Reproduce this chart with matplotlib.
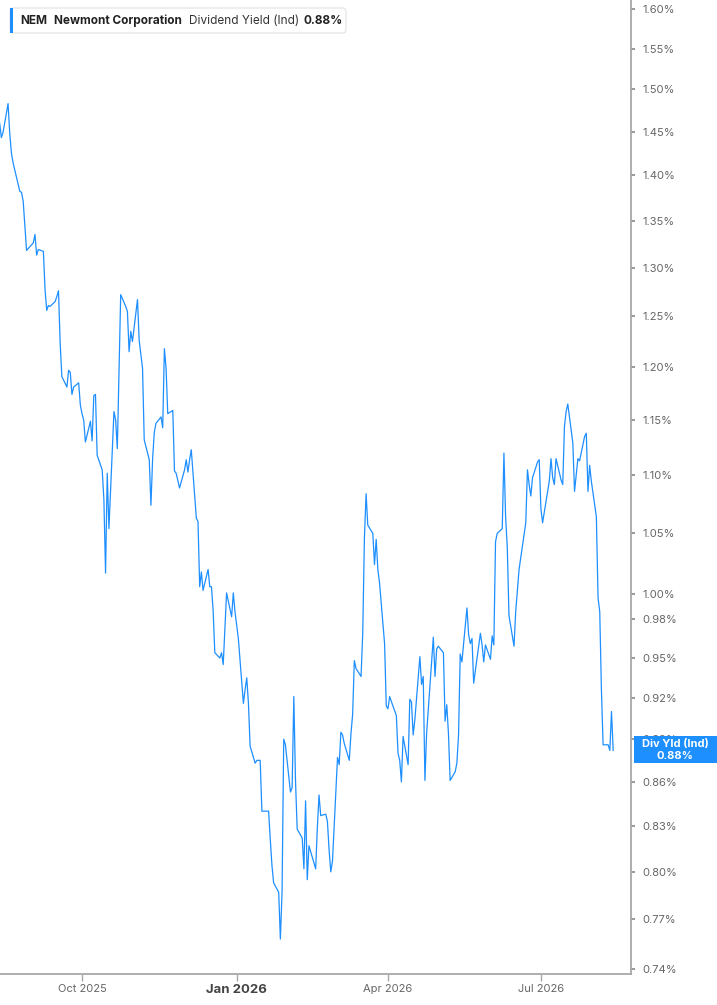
import matplotlib
matplotlib.use("Agg")
import matplotlib.pyplot as plt
import matplotlib.dates as mdates
from matplotlib.patches import FancyBboxPatch, Rectangle
from matplotlib.ticker import NullLocator, FixedLocator
import pandas as pd
import numpy as np

plt.rcParams['font.family'] = ['Inter', 'DejaVu Sans']

ticker = "NEM"
company = "Newmont Corporation"
metric = "Dividend Yield (Ind)"
last_label = "0.88%"
box_label = "Div Yld (Ind)"

start_date = "2025-08-13"
holidays = ["2025-09-01", "2025-11-27", "2025-12-25", "2026-01-01", "2026-01-19",
            "2026-02-16", "2026-04-03", "2026-05-25", "2026-06-19", "2026-07-03"]

# Dividend yield (%) per trading day
yield_pct = [
    1.460, 1.443, 1.449, 1.483, 1.448, 1.425, 1.414, 1.406, 1.382, 1.381,
    1.371, 1.345, 1.318, 1.326, 1.335, 1.313, 1.319, 1.317, 1.277, 1.256,
    1.261, 1.260, 1.265, 1.270, 1.276, 1.223, 1.191, 1.181, 1.197, 1.195,
    1.174, 1.181, 1.185, 1.164, 1.156, 1.150, 1.130, 1.149, 1.131, 1.173,
    1.174, 1.118, 1.105, 1.079, 1.017, 1.102, 1.054, 1.158, 1.150, 1.124,
    1.194, 1.272, 1.260, 1.255, 1.215, 1.235, 1.225, 1.267, 1.226, 1.212,
    1.199, 1.132, 1.114, 1.074, 1.115, 1.139, 1.147, 1.153, 1.143, 1.218,
    1.199, 1.156, 1.159, 1.104, 1.102, 1.089, 1.105, 1.114, 1.103, 1.114,
    1.123, 1.063, 1.060, 1.006, 1.018, 1.003, 1.020, 1.006, 1.006, 0.987,
    0.954, 0.950, 0.954, 0.945, 1.001, 0.982, 1.001, 0.986, 0.965, 0.916,
    0.926, 0.935, 0.916, 0.885, 0.873, 0.875, 0.875, 0.875, 0.840, 0.840,
    0.821, 0.804, 0.793, 0.787, 0.758, 0.787, 0.890, 0.886, 0.853, 0.856,
    0.921, 0.861, 0.828, 0.822, 0.802, 0.847, 0.795, 0.817, 0.802, 0.829,
    0.851, 0.837, 0.838, 0.833, 0.814, 0.800, 0.807, 0.877, 0.872, 0.895,
    0.893, 0.887, 0.875, 0.894, 0.908, 0.948, 0.942, 0.936, 0.969, 1.046,
    1.084, 1.057, 1.050, 1.024, 1.045, 1.020, 1.009, 0.961, 0.914, 0.912,
    0.921, 0.907, 0.880, 0.875, 0.860, 0.892, 0.872, 0.919, 0.917, 0.893,
    0.904, 0.951, 0.930, 0.936, 0.861, 0.894, 0.947, 0.966, 0.936, 0.957,
    0.959, 0.954, 0.903, 0.915, 0.894, 0.861, 0.867, 0.873, 0.893, 0.953,
    0.947, 0.989, 0.968, 0.961, 0.965, 0.931, 0.969, 0.960, 0.947, 0.960,
    0.949, 0.967, 0.960, 1.043, 1.050, 1.054, 1.120, 1.064, 1.038, 0.983,
    0.959, 0.986, 1.003, 1.020, 1.059, 1.105, 1.092, 1.082, 1.098, 1.112,
    1.114, 1.071, 1.059, 1.095, 1.115, 1.098, 1.092, 1.115, 1.096, 1.092,
    1.144, 1.158, 1.165, 1.129, 1.086, 1.100, 1.115, 1.113, 1.135, 1.138,
    1.086, 1.109, 1.095, 1.064, 0.997, 0.986, 0.926, 0.886, 0.886, 0.882,
    0.910, 0.882,
]

y_ticks = [0.74, 0.77, 0.80, 0.83, 0.86, 0.89, 0.92, 0.95, 0.98, 1.00, 1.05,
           1.10, 1.15, 1.20, 1.25, 1.30, 1.35, 1.40, 1.45, 1.50, 1.55, 1.60]
x_tick_dates = ["2025-10-01", "2026-01-01", "2026-04-01", "2026-07-01"]
x_tick_labels = ["Oct 2025", "Jan 2026", "Apr 2026", "Jul 2026"]

dates = pd.bdate_range(start=start_date, periods=len(yield_pct), freq="C",
                       holidays=holidays)

W, H = 717, 1005
fig = plt.figure(figsize=(W / 100, H / 100), dpi=100)
ax = fig.add_axes([0, 31 / H, 631 / W, 974 / H])

line_color = "#1e8fff"
ax.plot(dates, yield_pct, color=line_color, linewidth=0.9)

ax.set_yscale("log")
ax.set_ylim(0.737, 1.6117)
ax.yaxis.set_major_locator(FixedLocator(y_ticks))
ax.yaxis.set_minor_locator(NullLocator())
ax.set_yticklabels([f"{t:.2f}%" for t in y_ticks])
ax.yaxis.tick_right()

x0 = mdates.date2num(pd.Timestamp("2025-10-01")) - 48.8
x1 = mdates.date2num(pd.Timestamp("2026-07-01")) + 53.6
ax.set_xlim(x0, x1)
ax.set_xticks([mdates.date2num(pd.Timestamp(d)) for d in x_tick_dates])
ax.set_xticklabels(x_tick_labels)
ax.xaxis.set_minor_locator(NullLocator())

for s in ["left", "top"]:
    ax.spines[s].set_visible(False)
for s in ["right", "bottom"]:
    ax.spines[s].set_color("#a8a8a8")
    ax.spines[s].set_linewidth(1.3)

ax.tick_params(axis="y", which="major", length=3, width=1.2, color="#888888",
               labelsize=8, labelcolor="#666666", pad=5)
ax.tick_params(axis="x", which="major", length=5, width=1, color="#a8a8a8",
               labelsize=8, labelcolor="#666666", pad=2.5)
for lbl in ax.get_xticklabels():
    if lbl.get_text() == "Jan 2026":
        lbl.set_fontweight("bold")
        lbl.set_fontsize(9.5)
        lbl.set_color("#444444")
ax.set_facecolor("white")

# Legend / title box
legend_box = FancyBboxPatch((10 / W, 1 - 33 / H), (346 - 10) / W, 25 / H,
                            boxstyle="round,pad=0,rounding_size=0.004",
                            transform=fig.transFigure, facecolor="white",
                            edgecolor="#e2e2e2", linewidth=0.8, zorder=5)
fig.patches.append(legend_box)
bar = Rectangle((10 / W, 1 - 33 / H), 3 / W, 25 / H, transform=fig.transFigure,
                facecolor=line_color, edgecolor="none", zorder=6)
fig.patches.append(bar)
ty = 1 - 20.5 / H
fig.text(20 / W, ty, ticker, fontsize=8.5, fontweight="bold", color="#222222",
         va="center", ha="left", zorder=7)
fig.text(54 / W, ty, company, fontsize=8.5, fontweight="bold", color="#222222",
         va="center", ha="left", zorder=7)
fig.text(189 / W, ty, metric, fontsize=8.5, color="#333333",
         va="center", ha="left", zorder=7)
fig.text(303 / W, ty, last_label, fontsize=8.5, fontweight="bold", color="#222222",
         va="center", ha="left", zorder=7)

# Last-value box on the right axis
fig.canvas.draw()
py = ax.transData.transform((mdates.date2num(dates[-1]), yield_pct[-1]))[1]
box = Rectangle((634 / W, (py - 13) / H), (W - 634) / W, 27 / H,
                transform=fig.transFigure, facecolor=line_color,
                edgecolor="none", zorder=8)
fig.patches.append(box)
fig.text(675 / W, (py + 6) / H, box_label, fontsize=8, fontweight="bold",
         color="white", ha="center", va="center", zorder=9)
fig.text(675 / W, (py - 6) / H, last_label, fontsize=8, fontweight="bold",
         color="white", ha="center", va="center", zorder=9)

fig.savefig("out.png", dpi=100, facecolor="white")
